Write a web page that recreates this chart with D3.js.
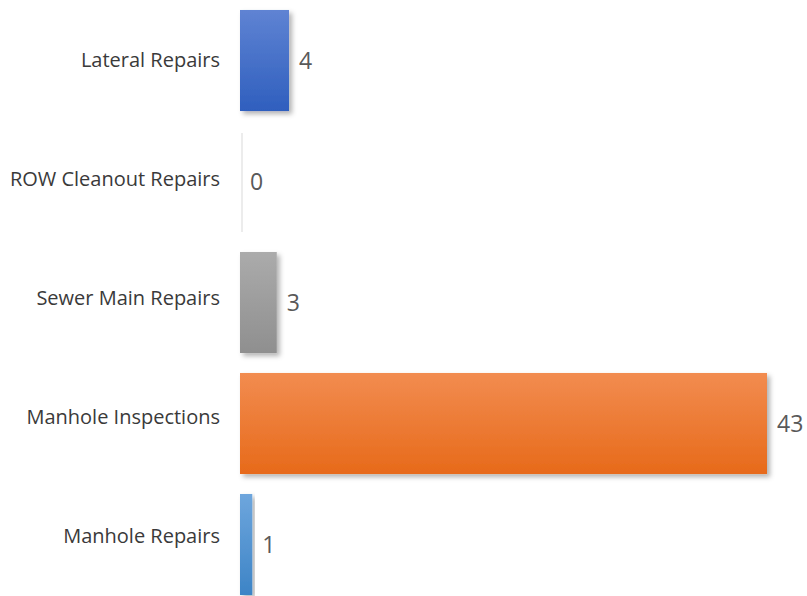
<!DOCTYPE html>
<html>
<head>
<meta charset="utf-8">
<script src="https://cdn.jsdelivr.net/npm/d3@7"></script>
<style>
  body { margin: 0; background: #fff; }
  .cat { font-family: "Open Sans", sans-serif; font-size: 20px; fill: #3a3a3a; }
  .val { font-family: "Open Sans", sans-serif; font-size: 23px; fill: #595959; }
</style>
</head>
<body>
<div id="chart"></div>
<script>
// chart data
var categories = ["Lateral Repairs", "ROW Cleanout Repairs", "Sewer Main Repairs", "Manhole Inspections", "Manhole Repairs"];
var values = [4, 0, 3, 43, 1];
var topColors = ["#5f83d3", "#ffffff", "#ababab", "#f28c50", "#6ea6dd"];
var bottomColors = ["#2f5fbe", "#ffffff", "#8f8f8f", "#e76a1a", "#3d84c6"];

var width = 807, height = 596;

var svg = d3.select("#chart").append("svg")
    .attr("width", width)
    .attr("height", height);

var defs = svg.append("defs");

// soft drop shadow like the office chart
var shadow = defs.append("filter")
    .attr("id", "shadow")
    .attr("x", "-20%").attr("y", "-20%")
    .attr("width", "140%").attr("height", "140%");
shadow.append("feDropShadow")
    .attr("dx", 3).attr("dy", 3)
    .attr("stdDeviation", 2.5)
    .attr("flood-color", "#000")
    .attr("flood-opacity", 0.3);

categories.forEach(function (c, i) {
    var g = defs.append("linearGradient")
        .attr("id", "grad" + i)
        .attr("x1", 0).attr("y1", 0)
        .attr("x2", 0).attr("y2", 1);
    g.append("stop").attr("offset", "0%").attr("stop-color", topColors[i]);
    g.append("stop").attr("offset", "100%").attr("stop-color", bottomColors[i]);
});

var x = d3.scaleLinear()
    .domain([0, 43])
    .range([240, 767]);

var y = d3.scaleBand()
    .domain(categories)
    .range([0, 605])
    .paddingInner(0.165)
    .paddingOuter(0.0825);

// category labels sit on a slightly tighter spacing than the bars
var yLabel = d3.scaleBand()
    .domain(categories)
    .range([0, 596]);

var data = categories.map(function (c, i) {
    return { cat: c, value: values[i], i: i };
});

// bars
svg.selectAll("rect.bar")
    .data(data)
    .enter()
    .append("rect")
    .attr("class", "bar")
    .attr("x", x(0))
    .attr("y", function (d) { return y(d.cat); })
    .attr("width", function (d) { return x(d.value) - x(0); })
    .attr("height", y.bandwidth())
    .attr("fill", function (d) { return "url(#grad" + d.i + ")"; })
    .attr("filter", "url(#shadow)");

// faint edge for the zero bar
svg.selectAll("line.zero")
    .data(data.filter(function (d) { return d.value === 0; }))
    .enter()
    .append("line")
    .attr("x1", x(0) + 2)
    .attr("x2", x(0) + 2)
    .attr("y1", function (d) { return y(d.cat) + 2; })
    .attr("y2", function (d) { return y(d.cat) + y.bandwidth(); })
    .attr("stroke", "#ececec")
    .attr("stroke-width", 2);

// category labels
svg.selectAll("text.cat")
    .data(data)
    .enter()
    .append("text")
    .attr("class", "cat")
    .attr("x", 220)
    .attr("y", function (d) { return yLabel(d.cat) + yLabel.bandwidth() / 2; })
    .attr("dy", "0.35em")
    .attr("text-anchor", "end")
    .text(function (d) { return d.cat; });

// value labels
svg.selectAll("text.val")
    .data(data)
    .enter()
    .append("text")
    .attr("class", "val")
    .attr("x", function (d) { return x(d.value) + 10; })
    .attr("y", function (d) { return y(d.cat) + y.bandwidth() / 2; })
    .attr("dy", "0.35em")
    .text(function (d) { return d.value; });
</script>
</body>
</html>
